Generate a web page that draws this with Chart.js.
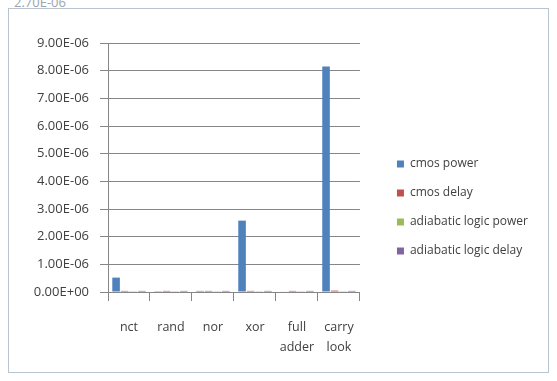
<!DOCTYPE html>
<html>
<head>
<meta charset="utf-8">
<script src="https://cdn.jsdelivr.net/npm/chart.js@4/dist/chart.umd.min.js"></script>
<style>
  html,body{margin:0;padding:0;background:#fff;width:557px;height:381px;overflow:hidden;}
  #frame{position:absolute;left:8px;top:8px;width:541px;height:365px;border:1px solid #b8c4d0;box-sizing:border-box;}
  #cell{position:absolute;left:14px;top:-7px;font:13px "Open Sans",Arial,sans-serif;color:#9aa4ae;}
  #wrap{position:absolute;left:10px;top:10px;width:538px;height:362px;}
</style>
</head>
<body>
<div id="cell">2.70E-06</div>
<div id="frame"></div>
<div id="wrap"><canvas id="c"></canvas></div>
<script>
const categories = ["nct", "rand", "nor", "xor", ["full", "adder"], ["carry", "look"]];
const seriesNames = ["cmos power", "cmos delay", "adiabatic logic power", "adiabatic logic delay"];
const cmosPower = [0.52e-6, 0.03e-6, 0.04e-6, 2.58e-6, 0.02e-6, 8.15e-6];
const cmosDelay = [0.04e-6, 0.04e-6, 0.04e-6, 0.04e-6, 0.04e-6, 0.05e-6];
const adiabaticPower = [0.03e-6, 0.03e-6, 0.03e-6, 0.03e-6, 0.03e-6, 0.03e-6];
const adiabaticDelay = [0.04e-6, 0.04e-6, 0.04e-6, 0.04e-6, 0.04e-6, 0.04e-6];
const yMin = 0, yMax = 9e-6, yStep = 1e-6;
const colors = ["#4F81BD", "#C0504D", "#9BBB59", "#8064A2"];
const FONT = "'Open Sans', Arial, sans-serif";

function fmt(v){
  if (Math.abs(v) < 1e-12) return "0.00E+00";
  const s = v.toExponential(2).toUpperCase();
  const m = s.match(/^(-?[\d.]+)E([+-])(\d+)$/);
  return m[1] + "E" + m[2] + m[3].padStart(2, "0");
}

const data = [cmosPower, cmosDelay, adiabaticPower, adiabaticDelay];
new Chart(document.getElementById("c"), {
  type: "bar",
  data: {
    labels: categories,
    datasets: seriesNames.map((n, i) => ({
      label: n, data: data[i], backgroundColor: colors[i], borderWidth: 0, yAxisID: "y"
    }))
  },
  options: {
    responsive: true, maintainAspectRatio: false, animation: false,
    layout: { padding: { top: 33, right: 10, left: 0, bottom: 0 } },
    datasets: { bar: { categoryPercentage: 0.82, barPercentage: 0.88 } },
    plugins: {
      legend: {
        position: "right", maxWidth: 200,
        labels: { boxWidth: 7, boxHeight: 7, padding: 17, color: "#404040",
          font: { family: FONT, size: 12 } }
      },
      tooltip: { enabled: false }
    },
    scales: {
      x: {
        grid: { display: true, drawOnChartArea: false, offset: true, tickLength: 9, color: "#868686" },
        border: { color: "#868686" },
        ticks: { color: "#404040", padding: 16, maxRotation: 0,
          font: { family: FONT, size: 12.5, lineHeight: 1.6 } },
        afterFit: s => { s.height = 80; }
      },
      y: {
        min: yMin, max: yMax,
        grid: { color: "#868686", tickLength: 8 },
        border: { color: "#868686" },
        ticks: { stepSize: yStep, color: "#404040", padding: 11, callback: v => fmt(v),
          font: { family: FONT, size: 13 } },
        afterFit: s => { s.width = 98; }
      },
      gap: {
        position: "right", display: true, min: 0, max: 1,
        grid: { display: false }, border: { display: false },
        ticks: { display: false },
        afterFit: s => { s.width = 20; }
      }
    }
  }
});
</script>
</body>
</html>
